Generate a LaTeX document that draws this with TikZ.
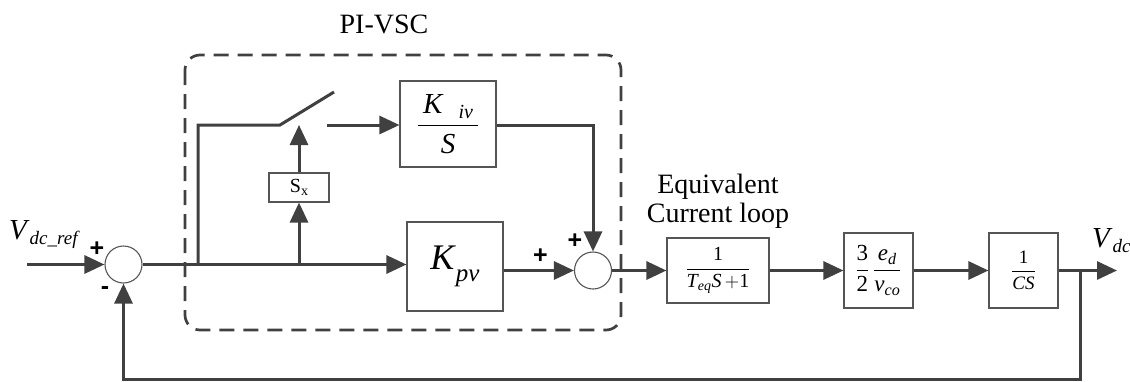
\RequirePackage{fix-cm}
\documentclass[tikz,border=0pt]{standalone}
\usepackage{amsmath}
\usepackage{fontspec}
\setmainfont{Liberation Serif}
\newfontfamily\plusfont{Liberation Sans}
\usetikzlibrary{arrows.meta}
\newcommand\ti[1]{\textit{#1}}
\newcommand\fs[1]{\fontsize{#1}{#1}\selectfont}
\newcommand\lsub[3]{\raisebox{-#1}{\fs{#2}\textit{#3}}}
\definecolor{ink}{HTML}{404040}
\definecolor{bord}{HTML}{555555}
\tikzset{
  ln/.style={draw=ink, line width=3pt},
  arr/.style={ln, -{Triangle[length=20pt,width=18pt]}},
  blk/.style={draw=bord, line width=1.1pt, inner sep=0pt, align=center},
  sumc/.style={circle, draw=bord, line width=1.1pt, minimum size=37pt, inner sep=0pt},
  dashbox/.style={draw=ink, line width=2.7pt, dash pattern=on 15pt off 9pt, rounded corners=15pt},
  sign/.style={inner sep=0pt, font=\plusfont\bfseries\fs{25}},
  lbl/.style={inner sep=0pt}
}
\begin{document}
\begin{tikzpicture}[x=1pt,y=-1pt]
\useasboundingbox (0,0) rectangle (1130,381);
% frame
\draw[dashbox] (185,55) rectangle (621,330);
\node[lbl, font=\fs{28}] (pivsc) at (384,24) {PI-VSC};
% nodes
\node[sumc] (s1) at (123.5,264.5) {};
\node[sumc] (s2) at (593,270.5) {};
\node[blk, minimum width=96pt, minimum height=86pt, font=\fs{29}] (kiv) at (448,124)
  {$\displaystyle\frac{\,\ti{K}\;\;\lsub{5pt}{20}{iv}\,}{\ti{S}}$};
\node[blk, minimum width=60pt, minimum height=29pt, font=\fs{20}] (sx) at (299,187.5)
  {S\raisebox{-3pt}{\fs{14}x}};
\node[blk, minimum width=96pt, minimum height=89pt] (kpv) at (455,266.5)
  {\fs{36}\ti{K}\lsub{12pt}{25}{pv}};
\node[blk, minimum width=102pt, minimum height=65pt, font=\fs{20}] (b1) at (718,270.5)
  {$\displaystyle\frac{\textup{1}}{\ti{T}_{\ti{eq}}\ti{S}\,{+}\textup{1}}$};
\node[blk, minimum width=69pt, minimum height=75pt, font=\fs{23}] (b2) at (878.5,270.5)
  {$\displaystyle\frac{\textup{3}}{\textup{2}}\,\frac{\ti{e}_{\ti{d}}}{\ti{v}_{\ti{co}}}$};
\node[blk, minimum width=69pt, minimum height=75pt, font=\fs{19}] (b3) at (1023.5,270.5)
  {$\displaystyle\frac{\textup{1}}{\ti{CS}}$};
% labels
\node[lbl, anchor=base west] (vref) at (9,239) {\fs{29}\ti{V}\lsub{5pt}{19}{dc\_ref}};
\node[lbl, anchor=base west] (vdc) at (1092,247) {\fs{29}\ti{V}\lsub{5pt}{19}{dc}};
\node[lbl, font=\fs{28}, anchor=base] (eq1) at (718,193) {Equivalent};
\node[lbl, font=\fs{28}, anchor=base] (eq2) at (718,222) {Current loop};
\node[sign] (p1) at (97,249.5) {+};
\node[sign] (m1) at (105,291) {-};
\node[sign] (p2) at (575,241.5) {+};
\node[sign] (p3) at (540.5,256) {+};
% coordinates
\coordinate (in) at (27,264.5);
\coordinate (br1) at (198,264.5);
\coordinate (sw1) at (280,125);
\coordinate (swt) at (334,92);
\coordinate (sw2) at (327,125);
\coordinate (br2) at (299,264.5);
\coordinate (out) at (1117,270.5);
\coordinate (br3) at (1080,270.5);
\coordinate (fb) at (1080,379);
% connectors
\draw[arr] (in) -- (s1.west);
\draw[arr] (s1.east) -- (s1.east -| kpv.west);
\draw[ln] (br1) |- (sw1) -- (swt);
\draw[arr] (sw2) -- (kiv.west |- sw2);
\draw[arr] (br2) -- (sx.south);
\draw[arr] (sx.north) -- (br2 |- sw1);
\draw[arr] (kiv.east |- sw2) -| (s2.north);
\draw[arr] (kpv.east |- s2) -- (s2.west);
\draw[arr] (s2.east) -- (b1.west);
\draw[arr] (b1.east) -- (b2.west);
\draw[arr] (b2.east) -- (b3.west);
\draw[arr] (b3.east) -- (out);
\draw[arr] (br3) -- (fb) -| (s1.south);
\end{tikzpicture}
\end{document}
